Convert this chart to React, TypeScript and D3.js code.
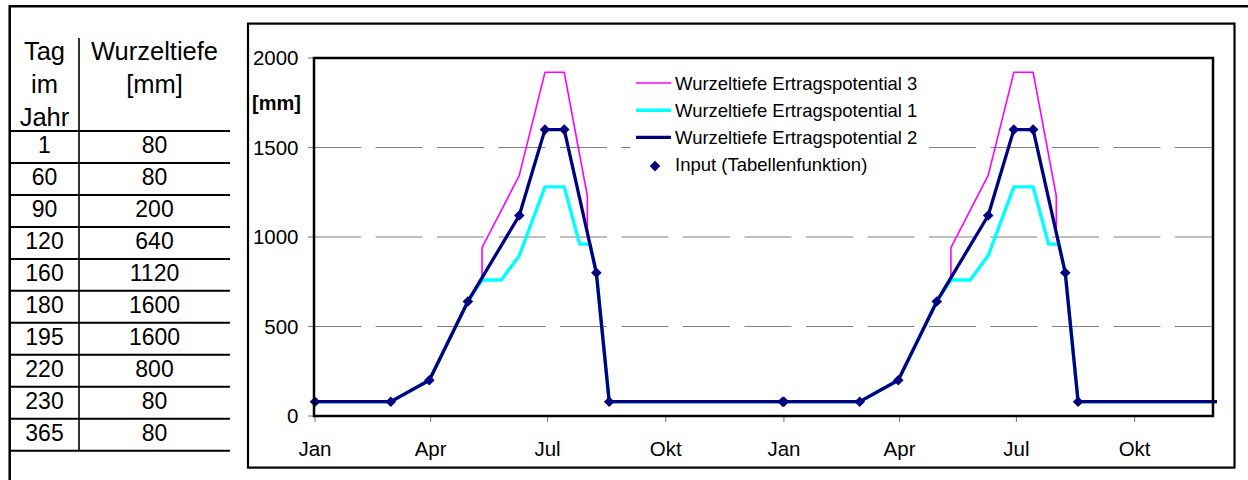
import { useEffect, useRef } from "react"
import * as d3 from "d3"

// Tabellenfunktion: Tag im Jahr -> Wurzeltiefe [mm]
const tableDays = [1, 60, 90, 120, 160, 180, 195, 220, 230, 365]
const tableDepth = [80, 80, 200, 640, 1120, 1600, 1600, 800, 80, 80]

// Ertragspotential 3 (magenta) and 1 (cyan), one year
const pot3Days = [1, 60, 90, 120, 131, 131, 160, 180, 195, 213, 213, 220, 230, 365]
const pot3Depth = [80, 80, 200, 640, 772, 940, 1344, 1920, 1920, 1229, 1024, 800, 80, 80]
const pot1Days = [1, 60, 90, 120, 131, 146, 160, 180, 195, 207, 215, 220, 230, 365]
const pot1Depth = [80, 80, 200, 640, 760, 760, 896, 1280, 1280, 960, 960, 800, 80, 80]

// chart shows the same year twice
const yearOffsets = [0, 365]

const monthTicks = [1, 91, 182, 274, 366, 456, 547, 639]
const monthLabels = ["Jan", "Apr", "Jul", "Okt", "Jan", "Apr", "Jul", "Okt"]
const yTicks = [0, 500, 1000, 1500, 2000]
const gridValues = [500, 1000, 1500]

const legendItems = [
  { label: "Wurzeltiefe Ertragspotential 3", color: "#ff00ff", width: 1.6, kind: "line" },
  { label: "Wurzeltiefe Ertragspotential 1", color: "#00ffff", width: 3.4, kind: "line" },
  { label: "Wurzeltiefe Ertragspotential 2", color: "#000080", width: 3.2, kind: "line" },
  { label: "Input (Tabellenfunktion)", color: "#000080", width: 0, kind: "marker" },
]

type Pt = { day: number; v: number }

const FONT = "'Liberation Sans', Arial, sans-serif"
const diamond = (r: number) => `M0,${-r}L${r},0L0,${r}L${-r},0Z`

function twoYears(days: number[], vals: number[]): Pt[] {
  const out: Pt[] = []
  yearOffsets.forEach((off) => days.forEach((d, i) => out.push({ day: d + off, v: vals[i] })))
  return out
}

export default function App() {
  const svgRef = useRef<SVGSVGElement>(null)

  useEffect(() => {
    if (!svgRef.current) return
    const svg = d3.select(svgRef.current)
    svg.selectAll("*").remove()

    const W = 1248
    const H = 480
    svg.attr("width", W).attr("height", H).style("font-family", FONT)

    // outer sheet frame
    svg.append("path")
      .attr("d", `M9.7,${H}V6.2H${W}`)
      .attr("fill", "none")
      .attr("stroke", "#000")
      .attr("stroke-width", 2.5)

    // ---- table ----
    const tbl = svg.append("g")
    const rowTop = 131
    const rowH = 31.97
    const col1 = 44.5
    const col2 = 154.5
    tbl.append("line")
      .attr("x1", 79).attr("x2", 79).attr("y1", 38).attr("y2", rowTop + rowH * tableDays.length)
      .attr("stroke", "#000").attr("stroke-width", 1.6)
    d3.range(tableDays.length + 1).forEach((i) => {
      tbl.append("line")
        .attr("x1", 10).attr("x2", 230)
        .attr("y1", rowTop + i * rowH).attr("y2", rowTop + i * rowH)
        .attr("stroke", "#000").attr("stroke-width", 2)
    })
    const header1 = ["Tag", "im", "Jahr"]
    const header2 = ["Wurzeltiefe", "[mm]"]
    header1.forEach((t, i) => {
      tbl.append("text").attr("x", col1).attr("y", 60 + i * 32.8)
        .attr("text-anchor", "middle").attr("font-size", 25.5).text(t)
    })
    header2.forEach((t, i) => {
      tbl.append("text").attr("x", col2).attr("y", 60 + i * 32.8)
        .attr("text-anchor", "middle").attr("font-size", 25.5).text(t)
    })
    tableDays.forEach((d, i) => {
      const yb = rowTop + i * rowH + 22
      tbl.append("text").attr("x", col1).attr("y", yb)
        .attr("text-anchor", "middle").attr("font-size", 23).text(d)
      tbl.append("text").attr("x", col2).attr("y", yb)
        .attr("text-anchor", "middle").attr("font-size", 23).text(tableDepth[i])
    })

    // ---- chart frame ----
    svg.append("rect")
      .attr("x", 248).attr("y", 23.6).attr("width", 986.5).attr("height", 444)
      .attr("fill", "#fff").attr("stroke", "#000").attr("stroke-width", 2.2)

    const left = 314
    const right = 1213
    const top = 58
    const bottom = 416

    const x = d3.scaleLinear().domain([1, 700]).range([315, right])
    const y = d3.scaleLinear().domain([0, 2000]).range([bottom, top])

    // gridlines
    svg.append("g")
      .selectAll("line")
      .data(gridValues)
      .enter()
      .append("line")
      .attr("x1", left).attr("x2", right)
      .attr("y1", (d) => y(d)).attr("y2", (d) => y(d))
      .attr("stroke", "#808080").attr("stroke-width", 1.1)
      .attr("stroke-dasharray", "47,14.5")

    // y ticks + labels
    yTicks.forEach((t) => {
      svg.append("line").attr("x1", left - 6).attr("x2", left)
        .attr("y1", y(t)).attr("y2", y(t)).attr("stroke", "#808080").attr("stroke-width", 1.1)
      svg.append("text").attr("x", 298.5).attr("y", y(t)).attr("dy", "0.36em")
        .attr("text-anchor", "end").attr("font-size", 20.5).text(t)
    })
    svg.append("text").attr("x", 252).attr("y", 109.5)
      .attr("font-size", 20).attr("font-weight", "bold").text("[mm]")

    // x ticks + labels
    monthTicks.forEach((d, i) => {
      svg.append("line").attr("x1", x(d)).attr("x2", x(d))
        .attr("y1", bottom).attr("y2", bottom + 6).attr("stroke", "#808080").attr("stroke-width", 1.1)
      svg.append("text").attr("x", x(d)).attr("y", 455.5)
        .attr("text-anchor", "middle").attr("font-size", 20.5).text(monthLabels[i])
    })

    // legend (white box hides the gridline behind it)
    const lg = svg.append("g")
    lg.append("rect").attr("x", 630).attr("y", 68).attr("width", 299).attr("height", 110).attr("fill", "#fff")
    legendItems.forEach((it, i) => {
      const cy = 83 + i * 27.2
      if (it.kind === "line") {
        lg.append("line").attr("x1", 636).attr("x2", 671).attr("y1", cy).attr("y2", cy)
          .attr("stroke", it.color).attr("stroke-width", it.width)
      } else {
        lg.append("path").attr("d", diamond(5.3)).attr("transform", `translate(655,${cy + 1.5})`)
          .attr("fill", it.color)
      }
      lg.append("text").attr("x", 675).attr("y", cy).attr("dy", "0.36em")
        .attr("font-size", 18.5).text(it.label)
    })

    // series, clipped to plot area
    svg.append("clipPath").attr("id", "plotclip")
      .append("rect").attr("x", left - 6).attr("y", top).attr("width", right - left + 10).attr("height", bottom - top + 6)
    const plot = svg.append("g").attr("clip-path", "url(#plotclip)")

    const line = d3.line<Pt>().x((d) => x(d.day)).y((d) => y(d.v))
    const inputPts = twoYears(tableDays, tableDepth)

    plot.append("path").datum(twoYears(pot3Days, pot3Depth))
      .attr("d", line).attr("fill", "none").attr("stroke", "#ff00ff").attr("stroke-width", 1.6)
      .attr("stroke-linejoin", "round")
    plot.append("path").datum(twoYears(pot1Days, pot1Depth))
      .attr("d", line).attr("fill", "none").attr("stroke", "#00ffff").attr("stroke-width", 3.4)
      .attr("stroke-linejoin", "round")
    plot.append("path").datum(inputPts)
      .attr("d", line).attr("fill", "none").attr("stroke", "#000080").attr("stroke-width", 3.3)
      .attr("stroke-linejoin", "round")
    plot.selectAll("path.mk")
      .data(inputPts.filter((d) => d.day <= 700))
      .enter()
      .append("path")
      .attr("class", "mk")
      .attr("d", diamond(5.3))
      .attr("transform", (d) => `translate(${x(d.day)},${y(d.v)})`)
      .attr("fill", "#000080")

    // plot area border (drawn on top like the axes)
    svg.append("rect")
      .attr("x", left).attr("y", top).attr("width", right - left).attr("height", bottom - top)
      .attr("fill", "none").attr("stroke", "#000").attr("stroke-width", 2.5)
  }, [])

  return (
    <div style={{ position: "absolute", left: 0, top: 0, width: 1248, height: 480, background: "#fff" }}>
      <svg ref={svgRef}></svg>
    </div>
  )
}
